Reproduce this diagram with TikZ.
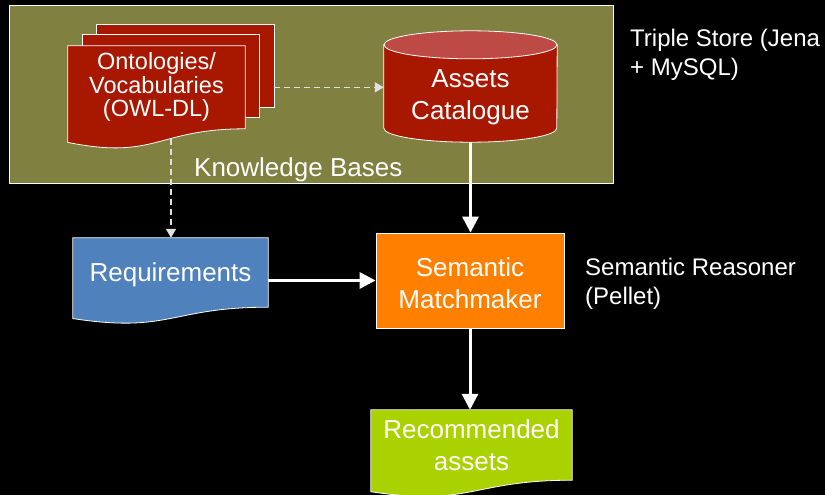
\documentclass[tikz,border=0pt]{standalone}
\usepackage{fontspec}
\setmainfont{Liberation Sans}
\usetikzlibrary{calc,arrows.meta}

\pgfdeclarelayer{backdrop}
\pgfdeclarelayer{shapes}
\pgfsetlayers{backdrop,shapes,main}

\definecolor{kbolive}{RGB}{128,128,64}
\definecolor{ontored}{RGB}{168,24,0}
\definecolor{cyltop}{RGB}{190,74,70}
\definecolor{reqblue}{RGB}{79,129,189}
\definecolor{mmorange}{RGB}{255,128,0}
\definecolor{recgreen}{RGB}{170,209,0}
\definecolor{lightdash}{RGB}{225,225,225}

% Flow-chart "document" outline around a node: straight sides of height #2,
% wavy bottom edge below it
\newcommand{\drawdocshape}[3]{%
  \draw[docline, fill=#3] (#1.north west) -- (#1.north east) -- (#1.south east)
    .. controls (#1.south) and ($(#1.south)+(0,{0.381*#2})$) ..
    ($(#1.south west)+(0,{0.1646*#2})$) -- cycle;}

\begin{document}
\begin{tikzpicture}[x=1pt, y=-1pt,
  boxtext/.style={inner sep=0pt, text=white, align=center,
    font=\fontsize{26}{32.5}\selectfont},
  docline/.style={draw=white, line width=0.8pt},
  sidenote/.style={inner sep=0pt, text=white, align=left, anchor=north west,
    font=\fontsize{24}{29.5}\selectfont},
  flow/.style={draw=white, line width=3pt, -{Triangle[length=16pt,width=16pt]}},
  hint/.style={draw=lightdash, line width=1.5pt, dash pattern=on 6pt off 4pt,
    -{Triangle[length=9pt,width=10pt]}},
]
\useasboundingbox (0,0) rectangle (825,495);

% ---------- nodes ----------
\node[inner sep=0pt, minimum width=603pt, minimum height=177pt] (kb) at (311.5,94.5) {};
\node[inner sep=0pt, minimum width=177pt, minimum height=82pt] (onto3) at (185.5,66) {};
\node[inner sep=0pt, minimum width=176pt, minimum height=82pt] (onto2) at (171,76) {};
\node[boxtext, font=\fontsize{23.5}{23.5}\selectfont,
      minimum width=177pt, minimum height=82.6pt] (onto) at (156.5,87.3)
      {Ontologies/\\Vocabularies\\(OWL-DL)};
\node[boxtext, minimum width=173pt, minimum height=69pt] (cat) at (470.5,93.5)
      {\rule{0pt}{25pt}Assets\\Catalogue};
\node[boxtext, minimum width=195pt, minimum height=69pt] (req) at (170.5,272.5)
      {\rule{0pt}{23pt}Requirements};
\node[boxtext, docline, fill=mmorange, minimum width=188pt, minimum height=95pt]
      (mm) at (470,280.5) {\rule{0pt}{24pt}Semantic\\Matchmaker};
\node[boxtext, minimum width=201pt, minimum height=70pt] (rec) at (471.5,445)
      {Recommended\\assets};

\node[inner sep=0pt, text=white, anchor=base west, font=\fontsize{26}{30}\selectfont]
      (kblabel) at (194,176.5) {Knowledge Bases};
\node[sidenote] (store) at (630,28.5) {Triple Store (Jena\\+ MySQL)};
\node[sidenote] (reasoner) at (585,257.5) {Semantic Reasoner\\(Pellet)};

% ---------- backgrounds ----------
\begin{pgfonlayer}{backdrop}
  \fill[black] (0,0) rectangle (825,495);
  \draw[docline, fill=kbolive] (kb.north west) rectangle (kb.south east);
\end{pgfonlayer}

% ---------- shapes behind the texts ----------
\begin{pgfonlayer}{shapes}
  \draw[docline, fill=ontored] (onto3.north west) rectangle (onto3.south east);
  \draw[docline, fill=ontored] (onto2.north west) rectangle (onto2.south east);
  \drawdocshape{onto}{82.6}{ontored}
  % database cylinder
  \draw[docline, fill=ontored] ($(cat.north west)+(0,-14)$) -- (cat.south west)
    arc[start angle=180, end angle=360, x radius=86.5pt, y radius=14pt]
    -- ($(cat.north east)+(0,-14)$) -- cycle;
  \draw[docline, fill=cyltop] ($(cat.north)+(0,-14)$) ellipse [x radius=86.5pt, y radius=14pt];
  \drawdocshape{req}{69}{reqblue}
  \drawdocshape{rec}{70}{recgreen}
\end{pgfonlayer}

% ---------- connectors ----------
\coordinate (ontofoot) at (171,138.5);
\draw[hint] (onto3.east |- onto) -- (cat.west |- onto);
\draw[hint] (ontofoot) -- (ontofoot |- req.north);
\draw[flow] ([yshift=-14pt]cat.south) -- (cat.south |- mm.north);
\draw[flow] (mm.west -| req.east) -- (mm.west);
\draw[flow] (mm.south) -- (mm.south |- rec.north);
\end{tikzpicture}
\end{document}
